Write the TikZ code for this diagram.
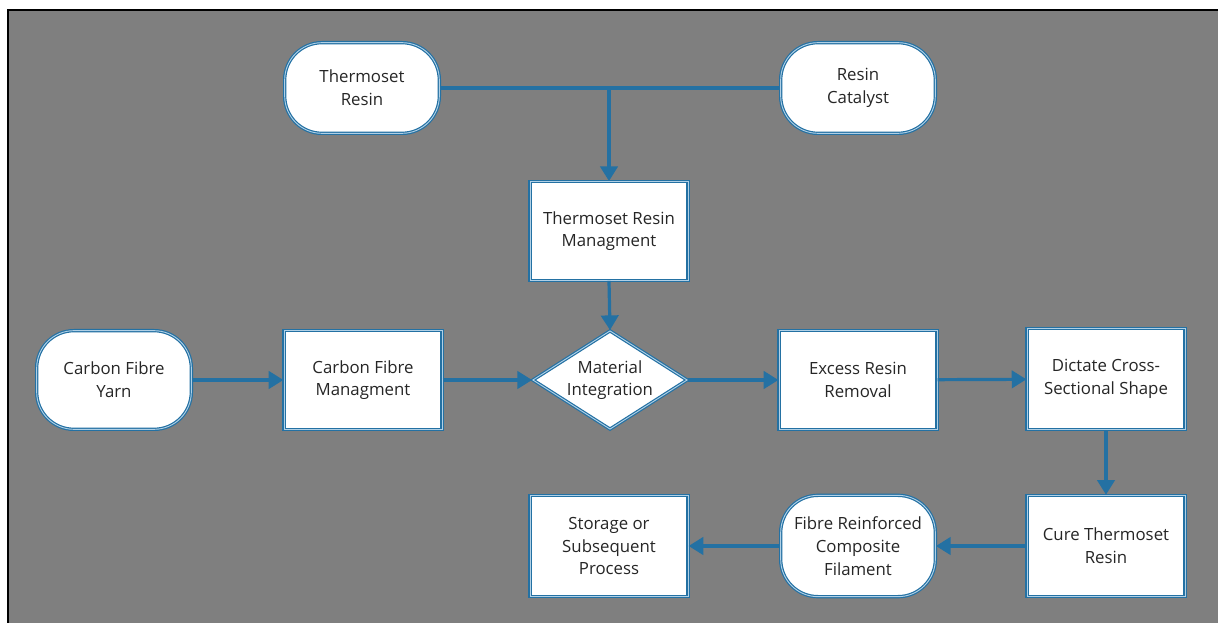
\documentclass[tikz,border=0pt]{standalone}
\usepackage{fontspec}
\setmainfont{Open Sans}
\usetikzlibrary{shapes.geometric,arrows.meta,positioning}
\definecolor{flowblue}{RGB}{36,113,163}
\definecolor{rimblue}{RGB}{176,208,230}
\definecolor{canvasgray}{RGB}{127,127,127}

\begin{document}
\begin{tikzpicture}[x=0.75pt,y=-0.75pt,
    base/.style={draw=flowblue, line width=0.9pt, double=rimblue, double distance=0.7pt, fill=white, text=black!85, font=\fontsize{12.6}{17}\selectfont, align=center, inner sep=2pt},
    term/.style={base, rectangle, rounded corners=28pt, minimum width=116pt, minimum height=68pt},
    procbox/.style={base, rectangle, minimum width=118.5pt, minimum height=74pt},
    decision/.style={base, diamond, aspect=1.57, inner sep=0pt, minimum width=116pt, minimum height=74pt},
    link/.style={draw=flowblue, line width=2.4pt},
    flow/.style={link, -{Triangle[width=13pt,length=11pt]}}
]
\useasboundingbox (0,0) rectangle (1218,623);

% --- canvas ---
\fill[canvasgray] (8,10) rectangle (1218,623);
\draw[black, line width=1.6pt] (8,623) -- (8,10) -- (1218,10);

% --- resin inputs ---
\node[term] (resin) at (362,88) {Thermoset\\Resin};
\node[term] (catalyst) at (858,88) {Resin\\Catalyst};
\node[procbox] (resinmgmt) at (609,231) {Thermoset Resin\\Managment};

% --- main line ---
\node[term, minimum height=74pt] (yarn) at (114,380) {Carbon Fibre\\Yarn};
\node[procbox] (fibremgmt) at (363,380) {Carbon Fibre\\Managment};
\node[decision] (integrate) at (610,380) {Material\\Integration};
\node[procbox] (excess) at (858,380) {Excess Resin\\Removal};
\node[procbox, minimum height=76pt] (crosssec) at (1106,379) {Dictate Cross-\\Sectional Shape};

% --- return line ---
\node[procbox, minimum height=76pt] (cure) at (1106,546) {Cure Thermoset\\Resin};
\node[term, minimum height=76pt] (filament) at (858,546) {Fibre Reinforced\\Composite\\Filament};
\node[procbox, minimum height=76pt] (storage) at (609,546) {Storage or\\Subsequent\\Process};

% --- connectors ---
\coordinate (join) at (resinmgmt.north |- resin.east);
\draw[link] (resin.east) -- (catalyst.west);
\draw[flow] (join) -- (resinmgmt.north);
\draw[flow] (resinmgmt.south) -- (integrate.north);
\draw[flow] (yarn) -- (fibremgmt);
\draw[flow] (fibremgmt) -- (integrate);
\draw[flow] (integrate) -- (excess);
\draw[flow] (excess) -- (crosssec);
\draw[flow] (crosssec) -- (cure);
\draw[flow] (cure) -- (filament);
\draw[flow] (filament) -- (storage);

\end{tikzpicture}
\end{document}
